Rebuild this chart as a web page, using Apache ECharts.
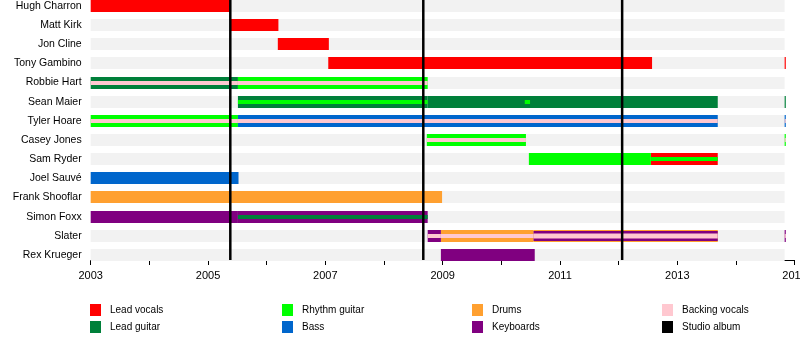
<!DOCTYPE html>
<html><head><meta charset="utf-8">
<script src="https://cdn.jsdelivr.net/npm/echarts@6/dist/echarts.min.js"></script>
<style>html,body{margin:0;padding:0;background:#fff}#c{width:800px;height:340px}</style>
</head><body><div id="c"></div>
<script>
// ---------- data ----------
const members = ['Hugh Charron','Matt Kirk','Jon Cline','Tony Gambino','Robbie Hart','Sean Maier','Tyler Hoare','Casey Jones','Sam Ryder','Joel Sauvé','Frank Shooflar','Simon Foxx','Slater','Rex Krueger'];
const roles = ['Lead vocals','Lead guitar','Rhythm guitar','Bass','Drums','Keyboards','Backing vocals'];
// [member, start, end, roles (primary first, then inner stripes)]
const tenures = [
  ['Hugh Charron', 2003, 2005.39, ['Lead vocals']],
  ['Matt Kirk', 2005.38, 2006.20, ['Lead vocals']],
  ['Jon Cline', 2006.19, 2007.06, ['Lead vocals']],
  ['Tony Gambino', 2007.05, 2012.57, ['Lead vocals']],
  ['Tony Gambino', 2014.83, 2014.85, ['Lead vocals']],
  ['Robbie Hart', 2003, 2005.51, ['Lead guitar','Backing vocals']],
  ['Robbie Hart', 2005.51, 2008.745, ['Rhythm guitar','Backing vocals']],
  ['Sean Maier', 2005.51, 2008.745, ['Lead guitar','Rhythm guitar']],
  ['Sean Maier', 2008.745, 2013.69, ['Lead guitar']],
  ['Sean Maier', 2010.40, 2010.49, ['Lead guitar','Rhythm guitar']],
  ['Sean Maier', 2014.83, 2014.85, ['Lead guitar']],
  ['Tyler Hoare', 2003, 2005.51, ['Rhythm guitar','Backing vocals']],
  ['Tyler Hoare', 2005.51, 2013.69, ['Bass','Backing vocals']],
  ['Tyler Hoare', 2014.83, 2014.85, ['Bass','Backing vocals']],
  ['Casey Jones', 2008.73, 2010.42, ['Rhythm guitar','Backing vocals']],
  ['Casey Jones', 2014.83, 2014.85, ['Rhythm guitar','Backing vocals']],
  ['Sam Ryder', 2010.47, 2012.55, ['Rhythm guitar']],
  ['Sam Ryder', 2012.55, 2013.69, ['Lead vocals','Rhythm guitar']],
  ['Joel Sauvé', 2003, 2005.52, ['Bass']],
  ['Frank Shooflar', 2003, 2008.99, ['Drums']],
  ['Simon Foxx', 2003, 2005.51, ['Keyboards']],
  ['Simon Foxx', 2005.51, 2008.745, ['Keyboards','Lead guitar']],
  ['Slater', 2008.745, 2008.97, ['Keyboards','Backing vocals']],
  ['Slater', 2008.97, 2010.55, ['Drums','Backing vocals']],
  ['Slater', 2010.55, 2013.69, ['Drums','Keyboards','Backing vocals']],
  ['Slater', 2014.83, 2014.85, ['Keyboards','Backing vocals']],
  ['Rex Krueger', 2008.97, 2010.57, ['Keyboards']]
];
const albums = [2005.38, 2008.67, 2012.06];
const timelineSpan = [2003, 2014.83];
const axisRange = [2003, 2015];

// ---------- styles ----------
const roleColors = {
  'Lead vocals':'#ff0000','Lead guitar':'#00803a','Rhythm guitar':'#00ff00','Bass':'#0066cc',
  'Drums':'#ffa030','Keyboards':'#800080','Backing vocals':'#ffc8d0','Studio album':'#000000'
};
const LAYER_H = [[12],[12,4],[12,10,5]];
const AXIS_OFFSET = -4.5;
const FONT = 'Liberation Sans, Arial, sans-serif';

const chart = echarts.init(document.getElementById('c'), null, {renderer:'canvas'});

function barRenderer(color){
  return function(params, api){
    const row = api.value(2);
    const s = api.coord([api.value(0), row]);
    const e = api.coord([api.value(1), row]);
    const n = api.value(4), k = api.value(3);
    const h = LAYER_H[n-1][k];
    return {type:'rect', z2: 10 + k,
      shape:{x:s[0], y:Math.round(s[1]) - h/2, width:Math.max(e[0]-s[0], 1), height:h},
      style:{fill:color}};
  };
}

const series = [];
// grey row bands
series.push({type:'custom', name:'_bg', silent:true, z:1,
  data: members.map((m,i)=>[timelineSpan[0], timelineSpan[1], i]),
  renderItem:function(params, api){
    const s = api.coord([api.value(0), api.value(2)]);
    const e = api.coord([api.value(1), api.value(2)]);
    return {type:'rect', z2:0, shape:{x:s[0], y:Math.round(s[1])-6, width:e[0]-s[0], height:12}, style:{fill:'#f2f2f2'}};
  }});
roles.forEach(r=>{
  const data = [];
  tenures.forEach(t=>{
    t[3].forEach((role,k)=>{
      if(role===r) data.push([t[1], t[2], members.indexOf(t[0]), k, t[3].length]);
    });
  });
  series.push({type:'custom', name:r, z:2, itemStyle:{color:roleColors[r]},
    data:data, renderItem:barRenderer(roleColors[r])});
});
series.push({type:'custom', name:'Studio album', z:3, itemStyle:{color:'#000'},
  data: albums.map(a=>[a]),
  renderItem:function(params, api){
    const x = api.coord([api.value(0), 0])[0];
    const cs = params.coordSys;
    return {type:'line', z2:30, shape:{x1:x, y1:Math.max(cs.y,0), x2:x, y2:cs.y+cs.height+AXIS_OFFSET},
      style:{stroke:'#000', lineWidth:2.5}};
  }});

const legendCols = [['Lead vocals','Lead guitar'],['Rhythm guitar','Bass'],['Drums','Keyboards'],['Backing vocals','Studio album']];
const legendLeft = [85, 277, 467, 657];

chart.setOption({
  animation:false,
  textStyle:{fontFamily:FONT},
  grid:{left:90.7, right:5.4, top:-3.575, bottom:75.5, containLabel:false, outerBoundsMode:'none'},
  xAxis:{type:'value', min:axisRange[0], max:axisRange[1], interval:1, offset:AXIS_OFFSET,
    axisLine:{show:true, lineStyle:{color:'#000', width:1}},
    axisTick:{show:true, length:5, lineStyle:{color:'#000'}},
    axisLabel:{fontSize:11, color:'#000', margin:10, fontFamily:FONT, hideOverlap:false,
      formatter:v=> ((v-axisRange[0])%2===0 ? String(v) : '')},
    splitLine:{show:false}},
  yAxis:{type:'category', data:members, inverse:true,
    axisLine:{show:false}, axisTick:{show:false}, splitLine:{show:false},
    axisLabel:{fontSize:10.5, color:'#000', margin:9, fontFamily:FONT}},
  legend: legendCols.map((c,i)=>({data:c, orient:'vertical', left:legendLeft[i], top:299,
    icon:'rect', itemWidth:11, itemHeight:12, itemGap:5, selectedMode:false,
    textStyle:{fontSize:10, color:'#000', fontFamily:FONT, padding:[0,0,0,4]}})),
  series:series
});
</script></body></html>
